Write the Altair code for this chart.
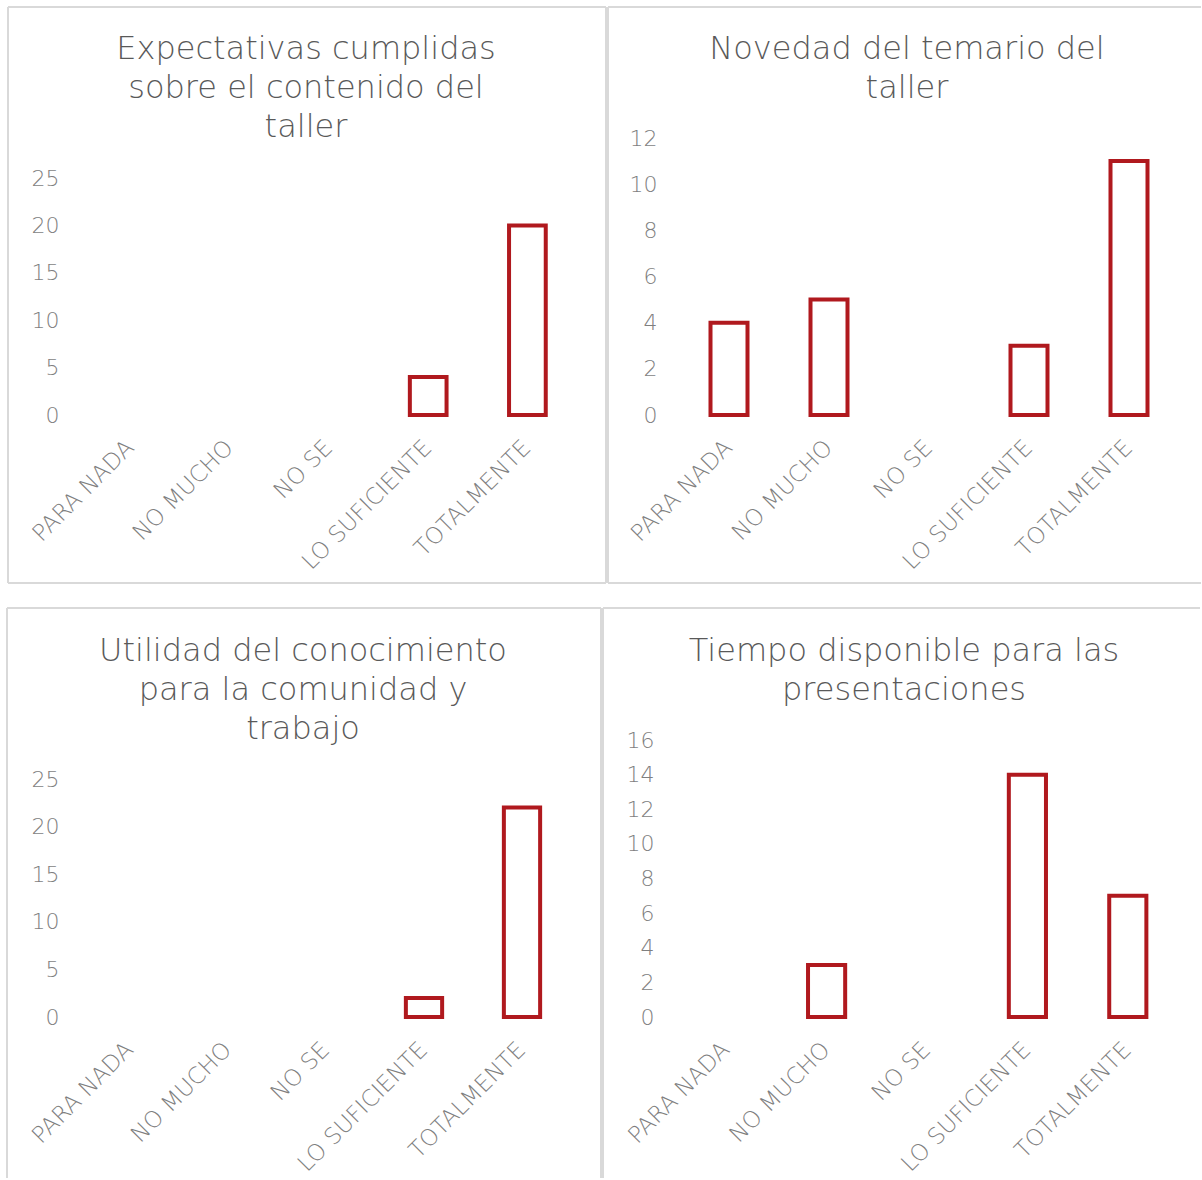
import altair as alt
import pandas as pd

# Answer scale shared by the four survey questions
categories = ["PARA NADA", "NO MUCHO", "NO SE", "LO SUFICIENTE", "TOTALMENTE"]

# Counts of answers per question
expectativas = [0, 0, 0, 4, 20]
novedad = [4, 5, 0, 3, 11]
utilidad = [0, 0, 0, 2, 22]
tiempo = [0, 3, 0, 14, 7]

# Panel titles, one entry per line
title_expectativas = ["Expectativas cumplidas", "sobre el contenido del", "taller"]
title_novedad = ["Novedad del temario del", "taller"]
title_utilidad = ["Utilidad del conocimiento", "para la comunidad y", "trabajo"]
title_tiempo = ["Tiempo disponible para las", "presentaciones"]

# Y axis extent and tick step per panel
axis_max = [25, 12, 25, 16]
axis_step = [5, 2, 5, 2]

FONT = "DejaVu Sans"
WEIGHT = 200
BAR_COLOR = "#B0191E"
FRAME_COLOR = "#D9D9D9"
TITLE_COLOR = "#595959"
LABEL_COLOR = "#7F7F7F"
PLOT_H = 277

one_row = alt.Data(values=[{}])


def hline(y, x1, x2):
    return alt.Chart(one_row).mark_rule(stroke=FRAME_COLOR, strokeWidth=2).encode(
        x=alt.value(x1), x2=alt.value(x2), y=alt.value(y)
    )


def vline(x, y1, y2):
    return alt.Chart(one_row).mark_rule(stroke=FRAME_COLOR, strokeWidth=2).encode(
        x=alt.value(x), y=alt.value(y1), y2=alt.value(y2)
    )


def panel(lines, values, ymax, ystep, width, y_top, title_x, frame):
    df = pd.DataFrame({"respuesta": categories, "n": values})

    bars = (
        alt.Chart(df)
        .transform_filter("datum.n > 0")
        .mark_bar(fill="white", stroke=BAR_COLOR, strokeWidth=4)
        .encode(
            x=alt.X(
                "respuesta:N",
                scale=alt.Scale(domain=categories, paddingInner=0.63, paddingOuter=0.315),
                axis=alt.Axis(
                    title=None,
                    domain=False,
                    ticks=False,
                    tickSize=0,
                    labelAngle=-45,
                    labelAlign="right",
                    labelBaseline="top",
                    labelPadding=21,
                    labelOffset=-8,
                    labelFontSize=23,
                    labelOverlap=False,
                    labelLimit=0,
                ),
            ),
            y=alt.Y(
                "n:Q",
                scale=alt.Scale(domain=[0, ymax], nice=False, zero=True, range=[PLOT_H, y_top]),
                axis=alt.Axis(
                    title=None,
                    domain=False,
                    ticks=False,
                    tickSize=0,
                    grid=False,
                    values=list(range(0, ymax + 1, ystep)),
                    labelPadding=22,
                    labelFontSize=22,
                ),
            ),
        )
    )

    title = (
        alt.Chart(one_row)
        .mark_text(
            font=FONT,
            fontWeight=WEIGHT,
            fontSize=32,
            lineHeight=39,
            color=TITLE_COLOR,
            align="center",
            baseline="alphabetic",
        )
        .encode(x=alt.value(title_x), y=alt.value(-79), text=alt.value(lines))
    )

    layers = [bars, title]
    for kind, a, b, c in frame:
        layers.append(hline(a, b, c) if kind == "h" else vline(a, b, c))

    return alt.layer(*layers).properties(width=width, height=PLOT_H)


tl = panel(
    title_expectativas, expectativas, axis_max[0], axis_step[0], 496, 40, 225,
    [("h", -131, -73, 525), ("h", 445, -73, 525), ("v", -73, -131, 445), ("v", 525, -131, 445)],
)
tr = panel(
    title_novedad, novedad, axis_max[1], axis_step[1], 500, 0, 228,
    [("h", -131, -71, 522), ("h", 445, -71, 522), ("v", -71, -131, 445)],
)
bl = panel(
    title_utilidad, utilidad, axis_max[2], axis_step[2], 490, 39, 222,
    [("h", -132, -74, 520), ("v", -74, -132, 438), ("v", 520, -132, 438)],
)
br = panel(
    title_tiempo, tiempo, axis_max[3], axis_step[3], 502, 0, 228,
    [("h", -132, -73, 524), ("v", -73, -132, 438)],
)

chart = (
    alt.vconcat(
        alt.hconcat(tl, tr, spacing=0),
        alt.hconcat(bl, br, spacing=0),
        spacing=23,
    )
    .properties(padding={"left": 6, "top": 6, "right": 0, "bottom": 0}, background="white")
    .configure_view(stroke=None)
    .configure_axis(
        labelFont=FONT,
        labelFontWeight=WEIGHT,
        labelColor=LABEL_COLOR,
    )
)

chart.save("out.html", embed_options={"renderer": "svg", "actions": False})
